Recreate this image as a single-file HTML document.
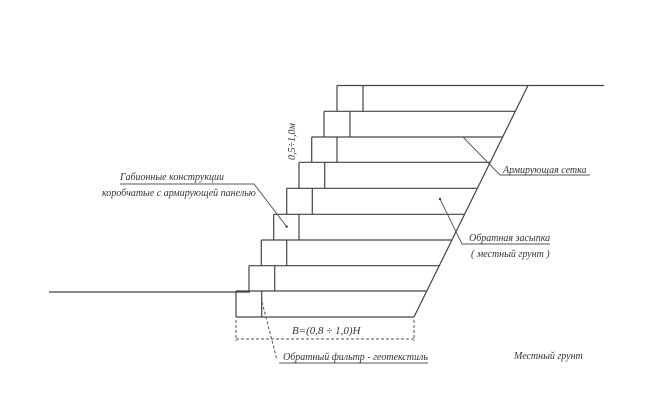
<!DOCTYPE html>
<html><head><meta charset="utf-8"><style>
html,body{margin:0;padding:0;background:#fff;}
svg{display:block;}
text{font-family:"Liberation Serif",serif;font-style:italic;fill:#333;}
</style></head><body>
<svg width="662" height="400" viewBox="0 0 662 400" xmlns="http://www.w3.org/2000/svg">
<g stroke="#444" stroke-width="1.2" fill="none">
<!-- ground -->
<line x1="49" y1="292" x2="250" y2="292"/>
<!-- top line -->
<line x1="337" y1="85.5" x2="604" y2="85.5"/>
<!-- slope -->
<line x1="528" y1="85.5" x2="414" y2="317"/>
<!-- rows -->
<path d="M337 85.5 V111.3 M363 85.5 V111.3"/>
<path d="M324 111.3 H515.3 M324 111.3 V137 M350 111.3 V137"/>
<path d="M311.7 137 H502.6 M311.7 137 V162.3 M337 137 V162.3"/>
<path d="M299 162.3 H490.2 M299 162.3 V188.3 M324.7 162.3 V188.3"/>
<path d="M286.7 188.3 H477.4 M286.7 188.3 V214.3 M312.3 188.3 V214.3"/>
<path d="M273.7 214.3 H464.6 M273.7 214.3 V240 M299 214.3 V240"/>
<path d="M261.3 240 H452 M261.3 240 V265.7 M286.7 240 V265.7"/>
<path d="M249 265.7 H439.4 M249 265.7 V291 M274.7 265.7 V291"/>
<path d="M236 291 H427 M236 291 V317 M261.7 291 V317 M236 317 H414"/>
</g>
<!-- dimension -->
<g stroke="#555" stroke-width="1" fill="none" stroke-dasharray="3,2">
<line x1="236" y1="320" x2="236" y2="341"/>
<line x1="414" y1="320" x2="414" y2="341"/>
<line x1="236" y1="339" x2="414" y2="339"/>
<line x1="262" y1="302" x2="277" y2="360"/>
</g>
<text x="292" y="334" font-size="11">B=(0,8 ÷ 1,0)H</text>
<text transform="translate(295,160) rotate(-90)" font-size="10">0,5÷1,0м</text>
<!-- leaders -->
<g stroke="#555" stroke-width="0.9" fill="none">
<path d="M120 184 H254 L286.7 226.7"/>
<path d="M463 137 L500 175 H590"/>
<path d="M440 199 L462 244 H550"/>
<path d="M279 363 H428"/>
</g>
<circle cx="286.7" cy="226.7" r="1.2" fill="#444"/>
<circle cx="440" cy="199" r="1.2" fill="#444"/>
<text x="120" y="180" font-size="10">Габионные конструкции</text>
<text x="102" y="196" font-size="10">коробчатые с армирующей панелью</text>
<text x="503" y="173" font-size="10">Армирующая сетка</text>
<text x="469" y="241" font-size="10">Обратная засыпка</text>
<text x="471" y="257" font-size="10">( местный грунт )</text>
<text x="283" y="360" font-size="10">Обратный фильтр - геотекстиль</text>
<text x="514" y="359" font-size="10">Местный грунт</text>
</svg>
</body></html>
